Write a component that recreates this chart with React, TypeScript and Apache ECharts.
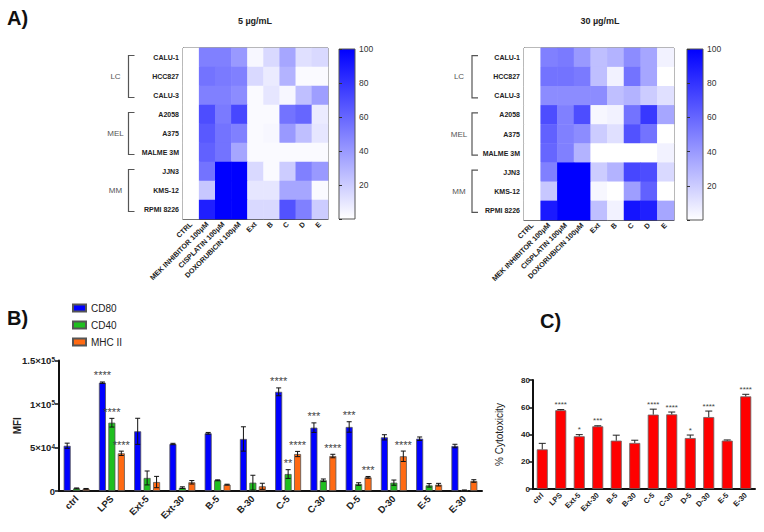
import React, { useEffect, useRef } from 'react';
import * as echarts from 'echarts';

// ---------- Panel A data ----------
const heatCols = ['CTRL', 'MEK INHIBITOR 100μM', 'CISPLATIN 100μM', 'DOXORUBICIN 100μM', 'Ext', 'B', 'C', 'D', 'E'];
const heatRows = ['CALU-1', 'HCC827', 'CALU-3', 'A2058', 'A375', 'MALME 3M', 'JJN3', 'KMS-12', 'RPMI 8226'];
const heatGroups = [
  { name: 'LC', from: 0, to: 2 },
  { name: 'MEL', from: 3, to: 5 },
  { name: 'MM', from: 6, to: 8 },
];
// rows x columns, % values
const heat5 = [
  [0, 50, 50, 40, 3, 15, 35, 12, 15],
  [0, 55, 52, 50, 15, 8, 30, 2, 2],
  [0, 50, 50, 45, 2, 10, 3, 25, 38],
  [0, 70, 52, 72, 2, 2, 55, 60, 8],
  [0, 65, 55, 50, 2, 3, 40, 25, 10],
  [0, 62, 55, 35, 2, 2, 2, 2, 2],
  [0, 55, 100, 100, 15, 2, 20, 50, 40],
  [0, 22, 100, 100, 10, 10, 35, 35, 2],
  [0, 88, 100, 100, 15, 15, 68, 50, 20],
];
const heat30 = [
  [0, 50, 52, 40, 25, 30, 45, 35, 5],
  [0, 55, 55, 52, 25, 5, 55, 35, 0],
  [0, 45, 45, 45, 45, 25, 30, 20, 12],
  [0, 70, 50, 70, 3, 5, 55, 78, 35],
  [0, 62, 50, 45, 20, 12, 68, 55, 0],
  [0, 60, 50, 30, 0, 0, 0, 0, 5],
  [0, 50, 100, 100, 20, 30, 72, 70, 15],
  [0, 22, 100, 100, 3, 0, 38, 62, 0],
  [0, 90, 100, 100, 25, 5, 92, 88, 35],
];
const heatTitles = ['5 µg/mL', '30 µg/mL'];

// ---------- Panel B data ----------
const barCats = ['ctrl', 'LPS', 'Ext-5', 'Ext-30', 'B-5', 'B-30', 'C-5', 'C-30', 'D-5', 'D-30', 'E-5', 'E-30'];
const cd80 = [52000, 124500, 68600, 54000, 66300, 59800, 114000, 72800, 73600, 61700, 60100, 51700];
const cd80Err = [3000, 800, 15000, 800, 1000, 14000, 4500, 5500, 6000, 3000, 2000, 2000];
const cd80Sig = ['', '****', '', '', '', '', '****', '***', '***', '', '', ''];
const cd40 = [3000, 78500, 15000, 3800, 12300, 9600, 19500, 12300, 8000, 9600, 6500, 800];
const cd40Err = [500, 5000, 8000, 1000, 500, 8500, 5000, 1500, 1500, 3000, 2000, 400];
const cd40Sig = ['', '****', '', '', '', '', '**', '', '', '', '', ''];
const mhc = [2500, 43300, 10300, 10000, 7300, 5400, 42500, 40200, 15700, 39900, 7300, 11500];
const mhcErr = [400, 2500, 6500, 2000, 500, 3500, 3000, 2000, 1000, 6000, 1500, 1500];
const mhcSig = ['', '****', '', '', '', '', '****', '****', '***', '****', '', ''];
const markerNames = ['CD80', 'CD40', 'MHC II'];

// ---------- Panel C data ----------
const cyto = [29.1, 57.8, 38.7, 46, 35.5, 33.8, 54.6, 54.8, 37.4, 52.8, 35.5, 68];
const cytoErr = [4.4, 0.5, 1.2, 0.4, 4, 2, 4, 1.7, 2.2, 4.4, 0.5, 1.5];
const cytoSig = ['', '****', '*', '***', '', '', '****', '****', '*', '****', '', '****'];

const FONT = '"Liberation Sans", Arial, Helvetica, sans-serif';

export default function App() {
  const ref = useRef<HTMLDivElement>(null);
  useEffect(() => {
    const chart = echarts.init(ref.current!, null, { renderer: 'svg' });

    const heatLayout = [
      { left: 183, top: 48, width: 145, height: 171, cb: 339, bx: 128.5, tx: 255 },
      { left: 524, top: 48, width: 150, height: 172, cb: 687, bx: 472, tx: 600 },
    ];
    const heatData = [heat5, heat30];

    const grids: any[] = [];
    const xAxes: any[] = [];
    const yAxes: any[] = [];
    const series: any[] = [];

    // heatmaps (grid 0,1)
    heatLayout.forEach((L, gi) => {
      grids.push({ left: L.left, top: L.top, width: L.width, height: L.height, show: true, borderColor: '#444', borderWidth: 1, backgroundColor: '#fff', containLabel: false, outerBoundsMode: 'none' });
      xAxes.push({
        type: 'category', gridIndex: gi, data: heatCols, position: 'bottom',
        axisLine: { lineStyle: { color: '#444', width: 1 } },
        axisTick: { alignWithLabel: true, length: 3, lineStyle: { color: '#444' } },
        axisLabel: { rotate: 45, fontSize: 7.2, fontWeight: 'bold', color: '#222', interval: 0, margin: 4, fontFamily: FONT },
        splitLine: { show: false },
      });
      yAxes.push({
        type: 'category', gridIndex: gi, data: heatRows, inverse: true,
        axisLine: { lineStyle: { color: '#444', width: 1 } },
        axisTick: { alignWithLabel: true, length: 3, lineStyle: { color: '#444' } },
        axisLabel: { fontSize: 7, fontWeight: 'bold', color: '#222', margin: 4, fontFamily: FONT },
        splitLine: { show: false },
      });
      const d: number[][] = [];
      heatData[gi].forEach((row, r) => row.forEach((v, c) => d.push([c, r, v])));
      series.push({ type: 'heatmap', xAxisIndex: gi, yAxisIndex: gi, data: d, itemStyle: { borderWidth: 0 } });
    });

    // Panel B (grid 2)
    const BW = 7;
    const GAP = 0.35;
    grids.push({ left: 59, top: 360.5, width: 423, height: 130.5, containLabel: false, outerBoundsMode: 'none' });
    xAxes.push({
      type: 'category', gridIndex: 2, data: barCats,
      axisLine: { lineStyle: { color: '#111', width: 2 } },
      axisTick: { alignWithLabel: true, length: 4, lineStyle: { color: '#111', width: 1.5 } },
      axisLabel: { rotate: 45, fontSize: 9.5, fontWeight: 'bold', color: '#222', interval: 0, margin: 6, fontFamily: FONT },
    });
    const supFmt = (v: number) => {
      if (v === 0) return '0';
      const e = Math.floor(Math.log10(v));
      const m = v / Math.pow(10, e);
      return `${m}×10{s|${e}}`;
    };
    yAxes.push({
      type: 'value', gridIndex: 2, min: 0, max: 150000, interval: 50000,
      axisLine: { show: true, lineStyle: { color: '#111', width: 2 } },
      axisTick: { show: true, length: 4, lineStyle: { color: '#111', width: 1.5 } },
      splitLine: { show: false },
      axisLabel: {
        formatter: supFmt, fontSize: 9.5, fontWeight: 'bold', color: '#222', margin: 4, fontFamily: FONT,
        rich: { s: { fontSize: 6.5, fontWeight: 'bold', verticalAlign: 'top', color: '#222', fontFamily: FONT } },
      },
      name: 'MFI', nameLocation: 'middle', nameGap: 37, nameMoveOverlap: false,
      nameTextStyle: { fontSize: 10, fontWeight: 'bold', color: '#222', fontFamily: FONT },
    });
    const markerColors = ['#0000ff', '#1fbf1f', '#ff6a13'];
    const markerVals = [cd80, cd40, mhc];
    const markerErrs = [cd80Err, cd40Err, mhcErr];
    const markerSigs = [cd80Sig, cd40Sig, mhcSig];
    markerNames.forEach((n, k) => {
      series.push({
        type: 'bar', name: n, xAxisIndex: 2, yAxisIndex: 2, data: markerVals[k],
        barWidth: BW, barGap: `${GAP * 100}%`,
        itemStyle: { color: markerColors[k], borderColor: '#555', borderWidth: 0.8 },
      });
    });
    const errB: number[][] = [];
    const errBSig: string[] = [];
    markerNames.forEach((_, k) => {
      markerVals[k].forEach((v, i) => {
        errB.push([i, v, markerErrs[k][i], k]);
        errBSig.push(markerSigs[k][i]);
      });
    });
    series.push({
      type: 'custom', xAxisIndex: 2, yAxisIndex: 2, data: errB, z: 5, silent: true,
      itemStyle: { color: '#444' },
      renderItem: (params: any, api: any) => {
        const i = api.value(0), m = api.value(1), e = api.value(2), k = api.value(3);
        const base = api.coord([i, m]);
        const top = api.coord([i, m + e]);
        const bot = api.coord([i, Math.max(m - e, 0)]);
        const x = base[0] + (k - 1) * BW * (1 + GAP);
        const st = { stroke: '#111', lineWidth: 1 };
        const cap = 2.5;
        const children: any[] = [
          { type: 'line', shape: { x1: x, y1: top[1], x2: x, y2: bot[1] }, style: st },
          { type: 'line', shape: { x1: x - cap, y1: top[1], x2: x + cap, y2: top[1] }, style: st },
          { type: 'line', shape: { x1: x - cap, y1: bot[1], x2: x + cap, y2: bot[1] }, style: st },
        ];
        const sig = errBSig[params.dataIndex];
        if (sig) {
          children.push({ type: 'text', x, y: top[1] - 1, style: { text: sig, fontSize: 11, fontFamily: FONT, fill: '#444', align: 'center', verticalAlign: 'bottom' } });
        }
        return { type: 'group', children };
      },
    });

    // Panel C (grid 3)
    grids.push({ left: 533, top: 380, width: 222, height: 109, containLabel: false, outerBoundsMode: 'none' });
    xAxes.push({
      type: 'category', gridIndex: 3, data: barCats,
      axisLine: { lineStyle: { color: '#111', width: 2 } },
      axisTick: { alignWithLabel: true, length: 3, lineStyle: { color: '#111', width: 1.5 } },
      axisLabel: { rotate: 45, fontSize: 7.5, fontWeight: 'bold', color: '#222', interval: 0, margin: 5, fontFamily: FONT },
    });
    yAxes.push({
      type: 'value', gridIndex: 3, min: 0, max: 80, interval: 20,
      axisLine: { show: true, lineStyle: { color: '#111', width: 2 } },
      axisTick: { show: true, length: 4, lineStyle: { color: '#111', width: 1.5 } },
      splitLine: { show: false },
      axisLabel: { fontSize: 8, fontWeight: 'bold', color: '#222', margin: 3, fontFamily: FONT },
      name: '% Cytotoxicity', nameLocation: 'middle', nameGap: 29, nameMoveOverlap: false,
      nameTextStyle: { fontSize: 10, color: '#222', fontFamily: FONT },
    });
    series.push({
      type: 'bar', name: 'Cytotoxicity', xAxisIndex: 3, yAxisIndex: 3, data: cyto, barWidth: 11,
      itemStyle: { color: '#ff0000', borderColor: '#666', borderWidth: 0.8 },
    });
    series.push({
      type: 'custom', xAxisIndex: 3, yAxisIndex: 3, data: cyto.map((v, i) => [i, v, cytoErr[i]]), z: 5, silent: true,
      itemStyle: { color: '#444' },
      renderItem: (params: any, api: any) => {
        const i = api.value(0), m = api.value(1), e = api.value(2);
        const base = api.coord([i, m]);
        const top = api.coord([i, m + e]);
        const x = base[0];
        const st = { stroke: '#222', lineWidth: 1 };
        const cap = 3.5;
        const children: any[] = [
          { type: 'line', shape: { x1: x, y1: top[1], x2: x, y2: base[1] }, style: st },
          { type: 'line', shape: { x1: x - cap, y1: top[1], x2: x + cap, y2: top[1] }, style: st },
        ];
        const sig = cytoSig[params.dataIndex];
        if (sig) {
          children.push({ type: 'text', x, y: top[1] - 1, style: { text: sig, fontSize: 8, fontFamily: FONT, fill: '#444', align: 'center', verticalAlign: 'bottom' } });
        }
        return { type: 'group', children };
      },
    });

    // colour bars (grid 4,5)
    heatLayout.forEach((L, gi) => {
      const idx = 4 + gi;
      grids.push({
        left: L.cb, top: L.top + 1, width: 16, height: L.height - 1, show: true, borderColor: '#555', borderWidth: 1,
        backgroundColor: new echarts.graphic.LinearGradient(0, 0, 0, 1, [
          { offset: 0, color: '#0000ff' },
          { offset: 1, color: '#ffffff' },
        ]),
        containLabel: false, outerBoundsMode: 'none',
      });
      xAxes.push({ type: 'value', gridIndex: idx, show: false, min: 0, max: 1 });
      yAxes.push({
        type: 'value', gridIndex: idx, min: 0, max: 100, interval: 20, position: 'right',
        axisLine: { show: false },
        axisTick: { show: true, length: 3, lineStyle: { color: '#333' } },
        splitLine: { show: false },
        axisLabel: { fontSize: 8.5, color: '#333', margin: 4, fontFamily: FONT, formatter: (v: number) => (v === 0 ? '' : String(v)) },
      });
    });

    const option: any = {
      animation: false,
      backgroundColor: '#ffffff',
      textStyle: { fontFamily: FONT },
      grid: grids,
      xAxis: xAxes,
      yAxis: yAxes,
      visualMap: [0, 1].map((i) => ({
        show: false, seriesIndex: i, min: 0, max: 100, dimension: 2,
        inRange: { color: ['#ffffff', '#0000ff'] },
      })),
      legend: {
        data: markerNames, orient: 'vertical', left: 72, top: 303, padding: 0,
        itemWidth: 13, itemHeight: 7, itemGap: 7, icon: 'rect',
        textStyle: { fontSize: 10, color: '#222', fontFamily: FONT },
      },
      series,
    };
    chart.setOption(option);

    // annotations: panel letters, titles, row-group brackets
    const graphics: any[] = [
      { type: 'text', x: 7, y: 18, style: { text: 'A)', fontSize: 20, fontWeight: 'bold', fill: '#111', textVerticalAlign: 'middle', fontFamily: FONT } },
      { type: 'text', x: 7, y: 318, style: { text: 'B)', fontSize: 20, fontWeight: 'bold', fill: '#111', textVerticalAlign: 'middle', fontFamily: FONT } },
      { type: 'text', x: 540, y: 321, style: { text: 'C)', fontSize: 20, fontWeight: 'bold', fill: '#111', textVerticalAlign: 'middle', fontFamily: FONT } },
    ];
    heatLayout.forEach((L, gi) => {
      graphics.push({ type: 'text', x: L.tx, y: 21, style: { text: heatTitles[gi], fontSize: 9, fontWeight: 'bold', fill: '#222', textAlign: 'center', textVerticalAlign: 'middle', fontFamily: FONT } });
      heatGroups.forEach((g) => {
        const y1 = chart.convertToPixel({ yAxisIndex: gi } as any, g.from) as number;
        const y2 = chart.convertToPixel({ yAxisIndex: gi } as any, g.to) as number;
        const a = y1 - 2, b = y2 + 2;
        graphics.push({
          type: 'polyline', shape: { points: [[L.bx + 6, a], [L.bx, a], [L.bx, b], [L.bx + 6, b]] },
          style: { stroke: '#555', lineWidth: 1.2, fill: null },
        });
        graphics.push({
          type: 'text', x: L.bx - 13, y: (a + b) / 2,
          style: { text: g.name, fontSize: 8, fill: '#555', textAlign: 'center', textVerticalAlign: 'middle', fontFamily: FONT },
        });
      });
    });
    chart.setOption({ graphic: graphics });

    return () => chart.dispose();
  }, []);

  return <div ref={ref} style={{ position: 'absolute', left: 0, top: 0, width: 764, height: 532 }} />;
}
